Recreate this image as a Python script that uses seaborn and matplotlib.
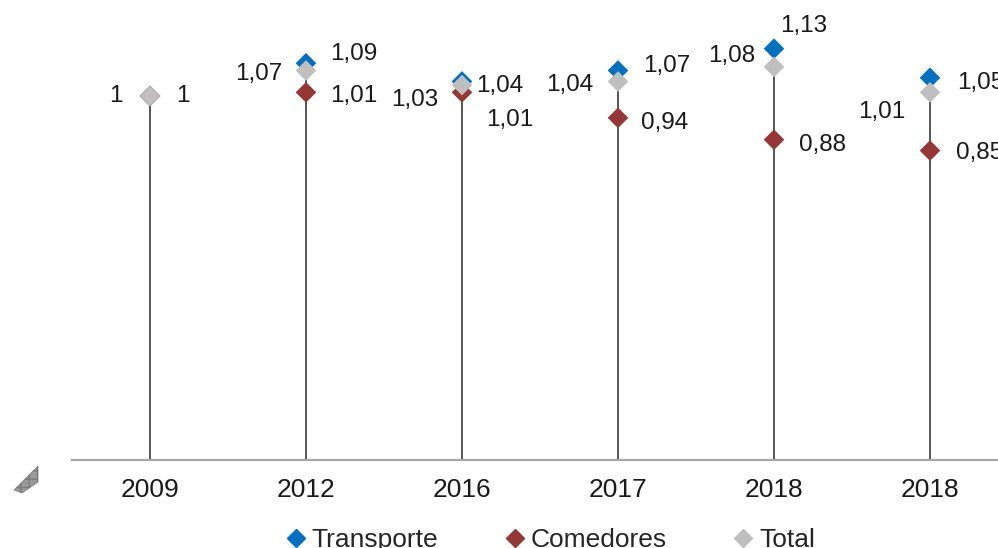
import pandas as pd
import seaborn as sns
import matplotlib.pyplot as plt
from matplotlib.patches import Polygon
from matplotlib.lines import Line2D

# chart values
periods = ["2009", "2012", "2016", "2017", "2018", "2018"]
transporte = [1, 1.09, 1.04, 1.07, 1.13, 1.05]
comedores = [1, 1.01, 1.01, 0.94, 0.88, 0.85]
total = [1, 1.07, 1.03, 1.04, 1.08, 1.01]

series_names = ["Transporte", "Comedores", "Total"]
colors = {"Transporte": "#0070C0", "Comedores": "#953735", "Total": "#BFBFBF"}

# label offsets in pixels (dx, dy) - hand placed to avoid overlaps
off_transporte = [(26, 0), (24, 9), (14, -5), (25, 5), (6, 23), (27, -5)]
off_comedores = [None, (24, -4), (24, -28), (23, -5), (25, -5), (26, -2)]
off_total = [(-27, 0), (-24, -3), (-24, -15), (-25, -4), (-19, 11), (-25, -20)]

idx = list(range(len(periods)))
df = pd.DataFrame({
    "pos": idx * 3,
    "valor": transporte + comedores + total,
    "serie": ["Transporte"] * 6 + ["Comedores"] * 6 + ["Total"] * 6,
})

sns.set_style("white")
plt.rcParams['font.family'] = ['Liberation Sans', 'DejaVu Sans']

fig = plt.figure(figsize=(9.98, 5.48), dpi=100)
ax = fig.add_axes([72 / 998, 88 / 548, 936 / 998, 460 / 548])
ax.patch.set_alpha(0)

# drop lines from the highest marker to the axis
tops = [max(a, b, c) for a, b, c in zip(transporte, comedores, total)]
ax.vlines(idx, 0, tops, color="#262626", lw=1.1, zorder=1)

# draw in order so total sits on top like the original
for name in series_names:
    sub = df[df["serie"] == name]
    sns.scatterplot(data=sub, x="pos", y="valor", color=colors[name], marker="D",
                    s=110, edgecolor="none", ax=ax, zorder=3 if name != "Total" else 4,
                    legend=False)

def fmt(v):
    return ("%.2f" % v).replace(".", ",").replace(",00", "")

for vals, offs, ha in [(transporte, off_transporte, "left"),
                       (comedores, off_comedores, "left"),
                       (total, off_total, "right")]:
    for i, v in enumerate(vals):
        if offs[i] is None:
            continue
        ax.annotate(fmt(v), (i, v), xytext=offs[i], textcoords="offset pixels",
                    ha=ha, va="center", fontsize=17.5, color="#1a1a1a")

ax.set_xlim(-0.5, 5.5)
ax.set_ylim(0, 460 / 364)
ax.set_xticks(idx)
ax.set_xticklabels(periods, fontsize=19, color="#1a1a1a")
ax.tick_params(axis="x", length=0, pad=13)
ax.set_yticks([])
ax.set_xlabel("")
ax.set_ylabel("")
for s in ["top", "right", "left"]:
    ax.spines[s].set_visible(False)
ax.spines["bottom"].set_color("#A6A6A6")
ax.spines["bottom"].set_linewidth(1.5)

handles = [Line2D([], [], marker="D", color=colors[n], lw=0, markersize=9) for n in series_names]
fig.legend(handles, series_names, loc="center", bbox_to_anchor=(0.551, 0.015), ncol=3,
           frameon=False, fontsize=19, handletextpad=0.2, columnspacing=2.5,
           handlelength=0.8, borderpad=0)

# little hatched corner glyph at bottom left
fig.patches.append(Polygon([[14 / 998, 1 - 490 / 548], [38 / 998, 1 - 466 / 548],
                            [38 / 998, 1 - 482 / 548], [22 / 998, 1 - 493 / 548]],
                           closed=True, transform=fig.transFigure, facecolor="#9a9a9a",
                           edgecolor="#7a7a7a", hatch="++", lw=0.5))

fig.savefig("out.png", dpi=100)
